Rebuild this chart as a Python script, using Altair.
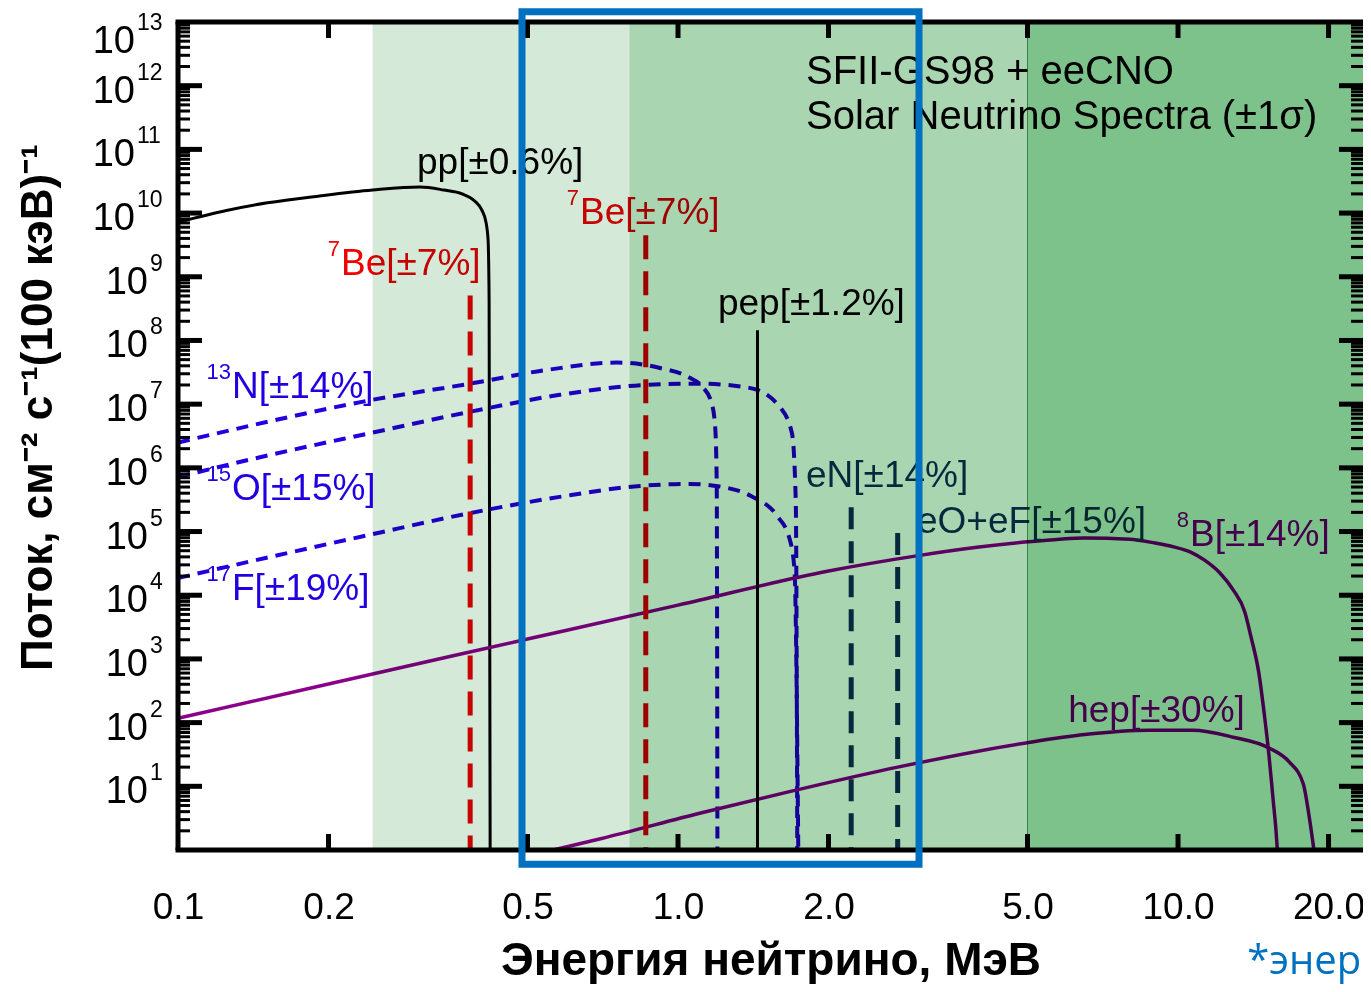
import altair as alt
import pandas as pd

# ---------------- data (energy in MeV, flux) ----------------
pp_E = [0.100, 0.125, 0.151, 0.192, 0.245, 0.305, 0.340, 0.370, 0.392, 0.405, 0.413, 0.417, 0.419, 0.421]
pp_F = [7.2e9, 1.1e10, 1.45e10, 1.86e10, 2.3e10, 2.57e10, 2.3e10, 2.0e10, 1.55e10, 1.12e10, 7.2e9, 3.8e9, 4.3e8, 1.0]

n13_E = [0.100, 0.153, 0.242, 0.384, 0.554, 0.755, 0.920, 1.056, 1.120, 1.167, 1.186, 1.195, 1.199]
n13_F = [2.5e6, 5.4e6, 1.15e7, 2.1e7, 3.5e7, 4.5e7, 3.7e7, 2.6e7, 1.86e7, 1.05e7, 4.7e6, 6.4e5, 1.0]

o15_E = [0.100, 0.153, 0.242, 0.384, 0.580, 0.859, 1.100, 1.390, 1.600, 1.690, 1.720, 1.732]
o15_F = [7.2e5, 1.6e6, 3.5e6, 7.6e6, 1.4e7, 2.0e7, 2.1e7, 1.8e7, 8.9e6, 3.5e6, 3.0e5, 1.0]

f17_E = [0.100, 0.153, 0.242, 0.384, 0.580, 0.840, 1.056, 1.210, 1.400, 1.580, 1.670, 1.710, 1.740]
f17_F = [1.86e4, 4.0e4, 8.9e4, 1.95e5, 3.5e5, 5.2e5, 5.6e5, 5.1e5, 3.6e5, 1.74e5, 7.9e4, 2.5e4, 1.0]

b8_E = [0.1, 0.2, 0.5, 1.0, 2.0, 3.0, 4.0, 5.0, 5.8, 6.5, 8.0, 9.0, 9.8, 10.57, 11.3, 12.13, 12.9,
        13.6, 14.0, 14.5, 14.9, 15.2, 15.5, 15.7, 15.8]
b8_F = [117, 405, 2050, 7000, 2.4e4, 4.15e4, 5.7e4, 6.9e4, 7.6e4, 7.9e4, 7.6e4, 6.6e4, 5.75e4, 4.8e4,
        3.55e4, 2.23e4, 1.2e4, 5450, 2190, 620, 123, 31, 6.0, 2.05, 1.0]

hep_E = [0.563, 0.70, 1.11, 1.72, 2.75, 4.96, 6.5, 8.75, 10.7, 12.9, 15.2, 16.7, 17.8, 18.3, 18.7]
hep_F = [1.0, 1.5, 3.8, 8.7, 20, 48, 65, 76, 76, 59, 40, 24, 11, 3.3, 1.0]

# monoenergetic lines
be_E = [0.384, 0.862]
be_F = [5.1e8, 4.5e9]
pep_E = [1.442]
pep_F = [1.45e8]
ec_E = [2.22, 2.75]
ec_F = [2.4e5, 9.5e4]

# shaded energy ranges
band_lo = [0.245, 0.80, 5.0]
band_hi = [0.80, 5.0, 23.44]

# highlighted energy window (blue frame)
win_E = [0.4875, 3.034]
win_F = [0.60, 1.45e13]

# labels
lab_text = ["pp[±0.6%]", "Be[±7%]", "Be[±7%]", "pep[±1.2%]", "N[±14%]", "O[±15%]", "F[±19%]",
            "eN[±14%]", "eO+eF[±15%]", "B[±14%]", "hep[±30%]"]
lab_sup = ["", "7", "7", "", "13", "15", "17", "", "", "8", ""]
lab_E = [0.3006, 0.2118, 0.6368, 1.202, 0.1282, 0.1282, 0.1282, 1.803, 3.006, 10.57, 6.03]
lab_F = [4.09e10, 1.06e9, 6.72e9, 2.5e8, 1.25e7, 3.12e5, 8.41e3, 5.0e5, 9.47e4, 5.92e4, 102]
lab_grp = ["pp", "Be", "Be", "pep", "cno", "cno", "cno", "ec", "ec", "b8", "hep"]

head_text = ["SFII-GS98 + eeCNO", "Solar Neutrino Spectra (±1σ)"]
head_E = [1.803, 1.803]
head_F = [1.06e12, 2.08e11]

note_text = ["*энергии"]
note_E = [13.75]
note_F = [0.0113]

x_ticks = [0.2, 0.5, 1, 2, 5, 10, 20]
x_labels_at = [0.1, 0.2, 0.5, 1, 2, 5, 10, 20]
y_exp = list(range(1, 14))
y_major = [10.0 ** k for k in range(1, 13)]
y_minor = [m * 10.0 ** k for k in range(0, 13) for m in range(2, 10)]

x_title = "Энергия нейтрино, МэВ"
y_title = "Поток, см⁻² с⁻¹(100 кэВ)⁻¹"

# ---------------- styling ----------------
W, H = 1185, 828
FONT = "Liberation Sans, Arial, Helvetica, sans-serif"
TFONT = "Liberation Sans, Arial, sans-serif"
BLACK = "#000000"
RED = "#f00000"
BLUE = "#2000e0"
NAVY = "#0a3058"
PURPLE = "#8b008b"
BAND_COLS = ["#d4e9d8", "#a9d5b1", "#7ec28b"]

xs = alt.Scale(type="log", domain=[0.1, 23.44], nice=False)
ys = alt.Scale(type="log", domain=[1, 1e13], nice=False)

xaxis = alt.Axis(values=x_labels_at, format=".1f", labelFontSize=37, labelFont=FONT, labelColor=BLACK,
                 ticks=False, tickSize=0, domain=False, grid=False, labelPadding=68,
                 labelBaseline="alphabetic", labelFlush=False, labelOverlap=False, labelBound=False,
                 title=x_title, titleFont=TFONT, titleFontSize=46, titleFontWeight="bold",
                 titleColor=BLACK, titleY=124, titleBaseline="alphabetic")
yaxis = alt.Axis(labels=False, ticks=False, tickSize=0, domain=False, grid=False,
                 title=y_title, titleFont=TFONT, titleFontSize=44, titleFontWeight="bold",
                 titleColor=BLACK, titleAngle=270, titleX=-140, titleY=385,
                 titleAlign="center", titleBaseline="middle")


def X(f):
    return alt.X(f, type="quantitative", scale=xs, axis=xaxis)


def Y(f):
    return alt.Y(f, type="quantitative", scale=ys, axis=yaxis)


one = pd.DataFrame({"k": [0]})
layers = []


def curve(E, F, color, width, dash=None):
    df = pd.DataFrame({"E": E, "F": F, "i": list(range(len(E)))})
    kw = dict(color=color, strokeWidth=width, interpolate="monotone")
    if dash:
        kw["strokeDash"] = dash
    return alt.Chart(df).mark_line(**kw).encode(x=X("E"), y=Y("F"), order="i:Q")


def vlines(E, F, color, width, dash=None):
    df = pd.DataFrame({"E": E, "F": F, "bottom": [1.0] * len(E)})
    kw = dict(color=color, strokeWidth=width)
    if dash:
        kw["strokeDash"] = dash
    return alt.Chart(df).mark_rule(**kw).encode(x=X("E"), y=Y("F"), y2="bottom:Q")


# continuum spectra
layers.append(curve(pp_E, pp_F, BLACK, 3))
layers.append(curve(n13_E, n13_F, BLUE, 4, [12, 8]))
layers.append(curve(o15_E, o15_F, BLUE, 4, [12, 8]))
layers.append(curve(f17_E, f17_F, BLUE, 4, [12, 8]))
layers.append(curve(b8_E, b8_F, PURPLE, 3.5))
layers.append(curve(hep_E, hep_F, PURPLE, 3.5))

# lines
layers.append(vlines(be_E, be_F, RED, 5, [24, 12]))
layers.append(vlines(pep_E, pep_F, BLACK, 3))
layers.append(vlines(ec_E, ec_F, NAVY, 5, [22, 12]))

# labels
lab = pd.DataFrame({"text": lab_text, "sup": lab_sup, "E": lab_E, "F": lab_F, "grp": lab_grp})
grp_col = {"pp": BLACK, "Be": RED, "pep": BLACK, "cno": BLUE, "ec": NAVY, "b8": PURPLE, "hep": PURPLE}
for g, col in grp_col.items():
    base = alt.Chart(lab).transform_filter(alt.datum.grp == g)
    layers.append(base.mark_text(align="left", baseline="alphabetic", fontSize=37, font=FONT, color=col)
                  .encode(x=X("E"), y=Y("F"), text="text:N"))
    layers.append(base.mark_text(align="right", baseline="alphabetic", fontSize=22, font=FONT, color=col,
                                 dx=-1, dy=-19)
                  .encode(x=X("E"), y=Y("F"), text="sup:N"))

head = pd.DataFrame({"text": head_text, "E": head_E, "F": head_F})
layers.append(alt.Chart(head).mark_text(align="left", baseline="alphabetic", fontSize=40, font=FONT,
                                        color=BLACK)
              .encode(x=X("E"), y=Y("F"), text="text:N"))

# shaded bands (multiplied over what lies beneath)
band = pd.DataFrame({"lo": band_lo, "hi": band_hi, "idx": [0, 1, 2]})
for i, col in enumerate(BAND_COLS):
    layers.append(alt.Chart(band).transform_filter(alt.datum.idx == i)
                  .mark_rect(color=col, blend="multiply")
                  .encode(x=X("lo"), x2="hi:Q", y=alt.value(0), y2=alt.value(H)))
layers.append(alt.Chart(band).transform_filter(alt.datum.idx == 2)
              .mark_rule(color="#5e9f6c", strokeWidth=1, blend="multiply")
              .encode(x=X("lo"), y=alt.value(0), y2=alt.value(H)))

# inward ticks
xt = pd.DataFrame({"E": x_ticks})
layers.append(alt.Chart(xt).mark_rule(color=BLACK, strokeWidth=5)
              .encode(x=X("E"), y=alt.value(H), y2=alt.value(H - 16)))
layers.append(alt.Chart(xt).mark_rule(color=BLACK, strokeWidth=5)
              .encode(x=X("E"), y=alt.value(0), y2=alt.value(16)))
ymj = pd.DataFrame({"v": y_major})
ymn = pd.DataFrame({"v": y_minor})
layers.append(alt.Chart(ymj).mark_rule(color=BLACK, strokeWidth=5)
              .encode(y=Y("v"), x=alt.value(0), x2=alt.value(24)))
layers.append(alt.Chart(ymj).mark_rule(color=BLACK, strokeWidth=5)
              .encode(y=Y("v"), x=alt.value(W - 24), x2=alt.value(W)))
layers.append(alt.Chart(ymn).mark_rule(color=BLACK, strokeWidth=3)
              .encode(y=Y("v"), x=alt.value(0), x2=alt.value(12)))
layers.append(alt.Chart(ymn).mark_rule(color=BLACK, strokeWidth=3)
              .encode(y=Y("v"), x=alt.value(W - 12), x2=alt.value(W)))

# frame (top, bottom, left)
layers.append(alt.Chart(one).mark_rule(color=BLACK, strokeWidth=5)
              .encode(x=alt.value(-2.5), x2=alt.value(W), y=alt.value(0)))
layers.append(alt.Chart(one).mark_rule(color=BLACK, strokeWidth=5)
              .encode(x=alt.value(-2.5), x2=alt.value(W), y=alt.value(H)))
layers.append(alt.Chart(one).mark_rule(color=BLACK, strokeWidth=5)
              .encode(x=alt.value(0), y=alt.value(0), y2=alt.value(H)))

# y tick labels: 10 with a superscript exponent
ylab = pd.DataFrame({"v": [10.0 ** e for e in y_exp], "e": y_exp,
                     "base": ["10"] * len(y_exp), "sup": [str(e) for e in y_exp]})
for expr, dxm, dxs, dym, dys in [("datum.e <= 9", -30, -28, 17, -6),
                                 ("datum.e >= 10 && datum.e <= 12", -43, -41, 17, -6),
                                 ("datum.e == 13", -43, -41, 31, 8)]:
    base = alt.Chart(ylab).transform_filter(expr)
    layers.append(base.mark_text(align="right", baseline="alphabetic", fontSize=38, font=FONT,
                                 color=BLACK, dx=dxm, dy=dym)
                  .encode(x=alt.value(0), y=Y("v"), text="base:N"))
    layers.append(base.mark_text(align="left", baseline="alphabetic", fontSize=23, font=FONT,
                                 color=BLACK, dx=dxs, dy=dys)
                  .encode(x=alt.value(0), y=Y("v"), text="sup:N"))

# blue highlight frame
win = pd.DataFrame({"x0": [win_E[0]], "x1": [win_E[1]], "y0": [win_F[0]], "y1": [win_F[1]]})
layers.append(alt.Chart(win).mark_rect(filled=False, stroke="#0070c0", strokeWidth=7)
              .encode(x=X("x0"), x2="x1:Q", y=Y("y0"), y2="y1:Q"))

# footnote
note = pd.DataFrame({"text": note_text, "E": note_E, "F": note_F})
layers.append(alt.Chart(note).mark_text(align="left", baseline="alphabetic", fontSize=40,
                                        font="Open Sans, Liberation Sans, sans-serif", color="#0070c0")
              .encode(x=X("E"), y=Y("F"), text="text:N"))

chart = alt.layer(*layers).properties(
    width=W, height=H,
    autosize=alt.AutoSizeParams(type="none"),
    padding={"left": 170, "top": 14, "right": 0, "bottom": 134},
    background="white",
).configure_view(stroke=None)

chart.save("out.html", embed_options={"renderer": "svg", "actions": False})
